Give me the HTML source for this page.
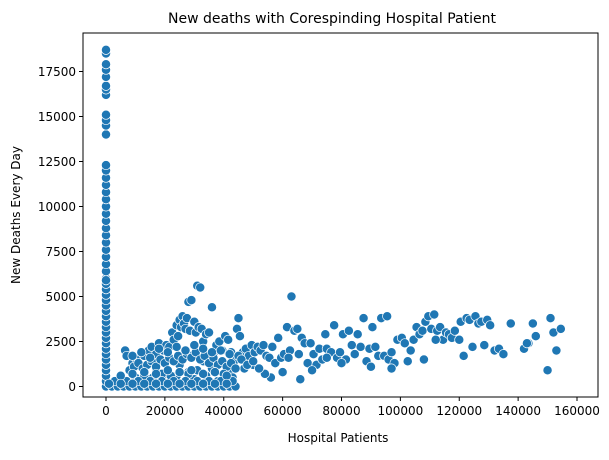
<!DOCTYPE html>
<html><head><meta charset="utf-8"><style>
body{margin:0;background:#fff;font-family:"Liberation Sans","DejaVu Sans",sans-serif}
svg text{font-family:"DejaVu Sans","Liberation Sans",sans-serif}
</style></head><body>
<svg id="chart" width="609" height="455">
<rect width="609" height="455" fill="#fff"/>
<text x="332" y="23" text-anchor="middle" font-size="14">New deaths with Corespinding Hospital Patient</text>
<g id="marks"></g>
<rect x="83" y="33" width="515" height="364" fill="none" stroke="#000" stroke-width="1"/>
<g id="xt"></g>
<g id="yt"></g>
<text x="338" y="442" text-anchor="middle" font-size="12">Hospital Patients</text>
<text transform="translate(20,215) rotate(-90)" text-anchor="middle" font-size="12">New Deaths Every Day</text>
</svg>
<script>
const xTicks=[0,20000,40000,60000,80000,100000,120000,140000,160000];
const yTicks=[0,2500,5000,7500,10000,12500,15000,17500];
const colX=[0,0,0,0,0,0,0,0,0,0,0,0,0,0,0,0,0,0,0,0,0,0,0,0,0,0,0,0,0,0,0,0,0,0,0,0,0,0,0,0,0,0,0,0,0,0,0,0,0,0];
const colY=[0,300,600,900,1200,1500,1800,2100,2400,2700,3000,3300,3600,3900,4200,4500,4800,5100,5400,5700,6000,6400,6800,7200,7600,8000,8400,8800,9200,9600,10000,10400,10800,11200,11600,12000,12300,14000,14500,14800,15100,16200,16500,16700,17200,17600,17900,18500,18700,5900];
const midX=[8000,9500,11000,12500,14000,15500,17000,18500,20000,21500,23000,24500,26000,27500,29000,30500,32000,33500,35000,36500,38000,39500,41000,42500,44000,10000,13000,16000,19000,22000,25000,28000,31000,34000,37000,40000,43000,9000,12000,15000,18000,21000,24000,27000,30000,33000,36000,39000,42000,45000,46000,48000,50000,52000];
const midY=[900,1100,1300,1000,1200,1400,1100,1500,1300,1600,1400,1700,1500,1800,1600,1900,1500,1700,1300,1600,1200,1400,1100,1300,1000,500,600,500,700,600,800,700,900,600,800,700,500,1700,1900,1600,2100,1900,2200,2000,2300,2100,1900,2000,1800,1700,1500,1200,1400,1000];
const bandX=[2000,4000,6000,8000,10000,12000,14000,16000,18000,20000,22000,24000,26000,28000,30000,32000,34000,36000,38000,40000,42000,44000,3000,7000,11000,15000,19000,23000,27000,31000,35000,39000,43000,5000,9000,13000,17000,21000,25000,29000,33000,37000,41000,1000,5000,9000,13000,17000,21000,25000,29000,33000,37000,41000];
const bandY=[0,0,0,0,0,0,0,0,0,0,0,0,0,0,0,0,0,0,0,0,0,0,300,300,300,300,300,300,300,300,300,300,300,600,700,800,700,900,800,900,700,800,600,150,150,150,150,150,150,150,150,150,150,150];
const sX=[6500,7000,9000,10500,12000,13000,14500,15500,17000,18000,19500,20500,21500,22500,23000,24000,24500,25000,25500,26000,26500,27000,27500,28000,28500,29000,30000,30500,31000,31500,32000,32500,33000,34000,35000,36000,36500,37500,38500,39500,40500,41500,42500,43500,44500,45000,45500,46500,47500,48500,49500,50500,51500,52500,53500,54500,55500,56500,57500,58500,59500,60500,61500,62500,63000,64000,65000,65500,66500,67500,68500,69500,70500,71500,72500,73500,74500,75000,76500,77500,78500,79500,80500,81500,82500,83500,84500,85500,86500,87500,88500,89500,90500,91500,92500,93500,94500,95500,96000,97000,98000,99000,100500,101500,102500,103500,104500,105500,106500,107500,108500,109500,110500,111500,112500,113500,114500,115500,116500,117500,118500,120500,121500,122500,123500,124500,125500,126500,127500,128500,129500,130500,132000,133500,135000,137500,142000,143500,145000,146000,150000,151000,152000,153000,154500,143000,120000,112000,108000,97000,75000,66000,56000,47000,38000,20000,12000,24000,30000,28000,17000,34000,50000,62000,70000,80000,90000,60000,54000,44000,42000,25000,33000,36000];
const sY=[2000,1700,1300,1500,1900,1700,2000,2200,1800,2400,2000,2300,2200,3000,2600,3400,2800,3700,3300,3900,3500,3200,3800,4700,3100,4800,3600,3000,5600,3300,5500,3200,2500,2900,3000,4400,1800,2300,2500,2000,2800,2600,1900,1400,3200,3800,2800,1900,2100,1700,2300,1900,2200,2000,2300,1700,1600,2200,1300,2700,1600,1800,3300,2000,5000,3100,3200,1800,2700,2400,1300,2400,1800,1200,2100,1500,2900,2100,1900,3400,1600,1900,2900,1500,3100,2300,1800,2900,2200,3800,1400,2100,3300,2200,1700,3800,1700,3900,1500,1900,1300,2600,2700,2400,1400,2000,2600,3300,2900,3100,3600,3900,3200,4000,3100,3300,2600,3000,2900,2700,3100,3600,1700,3800,3700,2200,3900,3500,3600,2300,3700,3400,2000,2100,1800,3500,2100,2400,3500,2800,900,3800,3000,2000,3200,2400,2600,2600,1500,1000,1600,400,500,1000,300,700,300,600,400,800,1000,600,1200,1600,900,1300,1100,800,700,1000,900,1200,1400,1000,600,1200,1000,800,1300];
const px=v=>106+v*(577-106)/160000;
const py=v=>386.5-v*18/1000;
const NS='http://www.w3.org/2000/svg';
const g=document.getElementById('marks');
function dot(x,y,name){
 const c=document.createElementNS(NS,'circle');
 c.setAttribute('cx',px(x));c.setAttribute('cy',py(y));c.setAttribute('r',4.6);
 c.setAttribute('fill','#1f77b4');c.setAttribute('stroke','#fff');c.setAttribute('stroke-width','0.7');
 
 
 g.appendChild(c);
}
colX.forEach((x,i)=>dot(x,colY[i],'point-zero-column'));
sX.forEach((x,i)=>dot(x,sY[i],'point'));
midX.forEach((x,i)=>dot(x,midY[i],'point-mid-band'));
bandX.forEach((x,i)=>dot(x,bandY[i],'point-low-band'));
const xt=document.getElementById('xt');
xTicks.forEach(t=>{
 const l=document.createElementNS(NS,'line');
 l.setAttribute('x1',px(t));l.setAttribute('x2',px(t));l.setAttribute('y1',397);l.setAttribute('y2',401);l.setAttribute('stroke','#000');
 
 
 xt.appendChild(l);
 const s=document.createElementNS(NS,'text');
 s.setAttribute('x',px(t));s.setAttribute('y',415);s.setAttribute('text-anchor','middle');s.setAttribute('font-size','12');
 s.textContent=t;
 
 
 xt.appendChild(s);
});
const yt=document.getElementById('yt');
yTicks.forEach(t=>{
 const l=document.createElementNS(NS,'line');
 l.setAttribute('x1',79);l.setAttribute('x2',83);l.setAttribute('y1',py(t));l.setAttribute('y2',py(t));l.setAttribute('stroke','#000');
 
 
 yt.appendChild(l);
 const s=document.createElementNS(NS,'text');
 s.setAttribute('x',76);s.setAttribute('y',py(t)+4.5);s.setAttribute('text-anchor','end');s.setAttribute('font-size','12');
 s.textContent=t;
 
 
 yt.appendChild(s);
});
</script>
</body></html>
